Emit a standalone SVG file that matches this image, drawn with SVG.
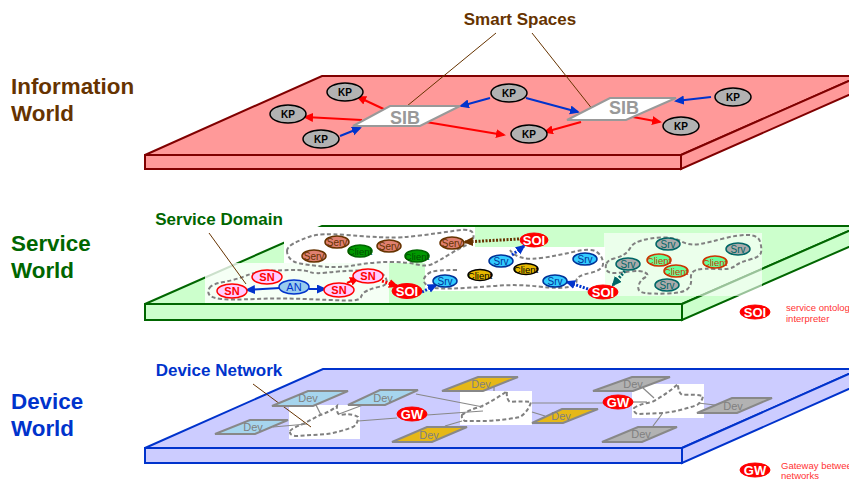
<svg xmlns="http://www.w3.org/2000/svg" width="849" height="482" viewBox="0 0 849 482">
<style>
text{font-family:"Liberation Sans",Arial,sans-serif;text-anchor:middle}
.world{font-size:22.4px;font-weight:bold;text-anchor:start}
.head{font-size:17px;font-weight:bold}
.brown{fill:#663300}.green{fill:#006600}.blue{fill:#0033cc}
.leader{stroke:#663300;stroke-width:1;fill:none}
.blob{fill:none;stroke:#808080;stroke-width:2;stroke-dasharray:4 2.5}
.legend{font-size:9.5px;fill:#ff3333;text-anchor:start}
.kp ellipse{fill:#b2b2b2;stroke:#000;stroke-width:1.5}
.kp text{font-size:10px;font-weight:bold;fill:#000}
.sib polygon{fill:#fff;stroke:#999;stroke-width:2}
.sib text{font-size:18px;font-weight:bold;fill:#999}
.red ellipse{fill:#f00;stroke:#f00}
.red text{font-size:13px;font-weight:bold;fill:#fff}
.sn ellipse{fill:#ffccff;stroke:#f00;stroke-width:1.5}
.sn text{font-size:11px;fill:#f00;font-weight:bold}
.an ellipse{fill:#99ccee;stroke:#0033cc;stroke-width:1.5}
.an text{font-size:11px;fill:#0033cc}
.srv ellipse{fill:#33ccff;stroke:#003399;stroke-width:1.5}
.srv text{font-size:10px;fill:#003399}
.serv ellipse{fill:#e08070;stroke:#663300;stroke-width:1.5}
.serv text{font-size:10px;fill:#663300}
.cg ellipse{fill:#009900;stroke:#006600;stroke-width:1.5}
.cg text{font-size:9.5px;fill:#004d00}
.cy ellipse{fill:#e6b800;stroke:#000;stroke-width:1.5}
.cy text{font-size:9.5px;fill:#000}
.st ellipse{fill:#aaa;stroke:#006666;stroke-width:1.5}
.st text{font-size:10px;fill:#006666}
.cr ellipse{fill:#66ff99;stroke:#cc3300;stroke-width:1.5}
.cr text{font-size:9.5px;fill:#cc3300}
.dev polygon{stroke:#888;stroke-width:2}
.dev text{font-size:11px;fill:#808080}
.db polygon{fill:#a6d5ee}.dy polygon{fill:#e6b817}.dg polygon{fill:#b2b2b2}
.cl{fill:none;stroke-width:2}
.lr{stroke:#f00}.lb{stroke:#0033cc}.lbr{stroke:#663300}.lt{stroke:#006666}
.dot{stroke-dasharray:2 1.5;stroke-width:3}
.dl{stroke:#888;stroke-width:1.2;fill:none}
</style>
<defs>
<marker id="ar" markerUnits="userSpaceOnUse" markerWidth="11" markerHeight="10" refX="8" refY="4.5" orient="auto"><path d="M0 0L10 4.5L0 9Z" fill="#f00"/></marker>
<marker id="ab" markerUnits="userSpaceOnUse" markerWidth="11" markerHeight="10" refX="8" refY="4.5" orient="auto"><path d="M0 0L10 4.5L0 9Z" fill="#0033cc"/></marker>
<marker id="abr" markerUnits="userSpaceOnUse" markerWidth="11" markerHeight="10" refX="8" refY="4.5" orient="auto"><path d="M0 0L10 4.5L0 9Z" fill="#663300"/></marker>
<marker id="at" markerUnits="userSpaceOnUse" markerWidth="11" markerHeight="10" refX="8" refY="4.5" orient="auto"><path d="M0 0L10 4.5L0 9Z" fill="#006666"/></marker>
</defs>

<g id="plate-information" fill="#ff9999" stroke="#800000" stroke-width="2">
<polygon points="145,155 322,76 860,76 681,155"/>
<polygon points="681,155 860,76 860,90 681,169"/>
<rect x="145" y="155" width="536" height="14"/>
</g>
<g id="plate-service" fill="#ccffcc" stroke="#006600" stroke-width="2">
<polygon points="145,304 322,226 860,226 682,304"/>
<polygon points="682,304 860,226 860,242 682,320"/>
<rect x="145" y="304" width="537" height="16"/>
</g>
<g id="plate-device" fill="#ccccff" stroke="#0033cc" stroke-width="2">
<polygon points="145,448 323,369 860,369 682,448"/>
<polygon points="682,448 860,369 860,384 682,463"/>
<rect x="145" y="448" width="537" height="15"/>
</g>

<g id="patches" stroke="none">
<rect x="205" y="263" width="184" height="40" fill="#fff" fill-opacity=".8"/>
<rect x="284" y="227" width="191" height="36" fill="#fff"/>
<rect x="425" y="247" width="180" height="44" fill="#fff"/>
<rect x="604" y="233" width="158" height="63" fill="#fff" fill-opacity=".6"/>
<rect x="289" y="405" width="71" height="34" fill="#fff"/>
<rect x="460" y="391" width="72" height="34" fill="#fff"/>
<rect x="632" y="384" width="72" height="34" fill="#fff"/>
</g>

<g id="connectors">
<g class="blobs">
<path class="blob" d="M209.5,288 Q212,284 223.5,282 Q235,280 246.5,275.5 Q258,271 274,270.5 Q290,270 297.5,270 Q305,270 310,272 Q315,274 327.5,272.5 Q340,271 357.5,270.5 Q375,270 380,272.5 Q385,275 386.5,280 Q388,285 380.5,286.5 Q373,288 367.5,290.5 Q362,293 361,297 Q360,301 345,300.5 Q330,300 305,299 Q280,298 255,299 Q230,300 221,299 Q212,298 209.5,295 Q207,292 209.5,288Z"/>
<path class="blob" d="M287,251 Q287,247 293.5,243.5 Q300,240 310,236.5 Q320,233 346.5,235 Q373,237 386.5,237.5 Q400,238 420,235.5 Q440,233 456.5,230.5 Q473,228 473.5,235 Q474,242 467,245 Q460,248 450,254 Q440,260 433.5,263.5 Q427,267 417,264.5 Q407,262 390,262 Q373,262 356.5,265 Q340,268 323.5,266.5 Q307,265 300,263.5 Q293,262 290,258.5 Q287,255 287,251Z"/>
<path class="blob" d="M457,270 Q437,270 431,272 Q425,275 424,279 Q423,283 428,286 Q433,289 451.5,288.5 Q470,288 493.5,286 Q517,284 538.5,286.5 Q560,289 568.5,287 Q577,285 576.5,280.5 Q576,276 590,273 Q604,270 603,262.5 Q602,255 596,251.5 Q590,248 575,251.5 Q560,255 545,257.5 Q530,260 521.5,257.5 Q513,255 510,250"/>
<path class="blob" d="M606.5,263.5 Q608,260 614,258.5 Q620,257 624,254.5 Q628,252 630.5,247.5 Q633,243 641.5,240.5 Q650,238 661.5,237.5 Q673,237 681.5,241.5 Q690,246 700,244 Q710,242 723.5,238.5 Q737,235 747.5,235 Q758,235 760,241.5 Q762,248 761,252.5 Q760,257 750,259.5 Q740,262 735,266 Q730,270 716.5,269 Q703,268 696.5,270 Q690,272 691,278.5 Q692,285 687.5,289 Q683,293 668,293.5 Q653,294 645,293 Q637,292 638.5,286 Q640,280 645,277.5 Q650,275 645,272.5 Q640,270 630,271.5 Q620,273 614,273 Q608,273 606.5,270 Q605,267 606.5,263.5Z"/>
<path class="blob" d="M290,431 Q292,428 303,424 L320,415 Q330,412 337,406 Q336,413 340,415 Q352,413 358,417 Q358,424 353,427 Q340,432 327,434 L297,436 Q289,436 290,431Z"/>
<path class="blob" d="M462,415 Q468,410 480,407 Q495,400 507,391 Q506,399 510,402 Q522,401 531,402 Q528,412 520,417 Q505,420 487,421 L465,421 Q461,419 462,415Z"/>
<path class="blob" d="M634,408 Q640,404 652,402 Q667,394 678,384 Q678,392 682,395 Q694,394 703,396 Q702,402 697,405 Q680,411 663,413 L637,414 Q633,412 634,408Z"/>
</g>
<g class="info">
<path class="cl lr" d="M390,112L358,97" marker-end="url(#ar)"/>
<path class="cl lr" d="M362,120L305,117" marker-end="url(#ar)"/>
<path class="cl lr" d="M420,121L504,135" marker-end="url(#ar)"/>
<path class="cl lr" d="M581,122L545,132" marker-end="url(#ar)"/>
<path class="cl lr" d="M633,117L660,122" marker-end="url(#ar)"/>
<path class="cl lb" d="M490,98L461,106" marker-end="url(#ab)"/>
<path class="cl lb" d="M526,98L578,112" marker-end="url(#ab)"/>
<path class="cl lb" d="M711,97L676,101" marker-end="url(#ab)"/>
<path class="cl lb" d="M340,136L360,128" marker-end="url(#ab)"/>
</g>
<g class="service">
<path class="cl lb" d="M280,288L247,290" marker-end="url(#ab)"/>
<path class="cl lb" d="M309,289L325,289" marker-end="url(#ab)"/>
<path class="cl lr" d="M347,283L358,278" marker-end="url(#ar)"/>
<path class="cl lr dot" d="M382,281L397,286" marker-end="url(#ar)"/>
<path class="cl lb dot" d="M422,292L436,285" marker-end="url(#ab)"/>
<path class="cl lbr dot" d="M519,239L465,242" marker-end="url(#abr)"/>
<path class="cl lb dot" d="M512,255L524,246" marker-end="url(#ab)"/>
<path class="cl lb dot" d="M588,289L567,282" marker-end="url(#ab)"/>
<path class="cl lt dot" d="M625,271L613,285" marker-end="url(#at)"/>
</g>
<g class="device">
<path class="dl" d="M316,405L321,415"/>
<path class="dl" d="M339,414L363,405"/>
<path class="dl" d="M273,427L307,424"/>
<path class="dl" d="M358,421L397,418"/>
<path class="dl" d="M427,415L483,411"/>
<path class="dl" d="M416,394L483,407"/>
<path class="dl" d="M445,426L462,421"/>
<path class="dl" d="M494,387L494,391"/>
<path class="dl" d="M532,403L604,403"/>
<path class="dl" d="M532,412L545,416"/>
<path class="dl" d="M633,402L647,402"/>
<path class="dl" d="M643,388L654,398"/>
<path class="dl" d="M698,403L715,405"/>
<path class="dl" d="M653,426L662,414"/>
</g>
<path class="leader" d="M496,33L407,106"/>
<path class="leader" d="M532,33L597,115"/>
<path class="leader" d="M209,233L246,284"/>
<path class="leader" d="M253,384L311,427"/>
</g>

<g id="labels">
<text class="world brown" x="11" y="94">Information</text>
<text class="world brown" x="11" y="121">World</text>
<text class="world green" x="11" y="251">Service</text>
<text class="world green" x="11" y="278">World</text>
<text class="world blue" x="11" y="409">Device</text>
<text class="world blue" x="11" y="436">World</text>
<text class="head brown" x="520" y="25">Smart Spaces</text>
<text class="head green" x="219" y="225">Service Domain</text>
<text class="head blue" x="219" y="376">Device Network</text>
<text class="legend" x="786" y="311">service ontology</text>
<text class="legend" x="786" y="322">interpreter</text>
<text class="legend" x="781" y="469">Gateway between</text>
<text class="legend" x="781" y="479">networks</text>
</g>

<g id="sib1" class="sib"><polygon points="353,126 390,106 460,106 420,126"/><text x="405" y="124">SIB</text></g>
<g id="sib2" class="sib"><polygon points="567,120 610,98 676,98 626,120"/><text x="624" y="114">SIB</text></g>
<g id="kp1" class="kp"><ellipse cx="345" cy="92" rx="18" ry="9"/><text x="345" y="96">KP</text></g>
<g id="kp2" class="kp"><ellipse cx="288" cy="114" rx="18" ry="9"/><text x="288" y="118">KP</text></g>
<g id="kp3" class="kp"><ellipse cx="321" cy="139" rx="18" ry="9"/><text x="321" y="143">KP</text></g>
<g id="kp4" class="kp"><ellipse cx="509" cy="93" rx="18" ry="9"/><text x="509" y="97">KP</text></g>
<g id="kp5" class="kp"><ellipse cx="529" cy="134" rx="18" ry="9"/><text x="529" y="138">KP</text></g>
<g id="kp6" class="kp"><ellipse cx="681" cy="126" rx="18" ry="9"/><text x="681" y="130">KP</text></g>
<g id="kp7" class="kp"><ellipse cx="733" cy="97" rx="18" ry="9"/><text x="733" y="101">KP</text></g>

<g id="sn1" class="sn"><ellipse cx="267" cy="277" rx="15" ry="7"/><text x="267" y="281">SN</text></g>
<g id="sn2" class="sn"><ellipse cx="232" cy="291" rx="15" ry="7"/><text x="232" y="295">SN</text></g>
<g id="an" class="an"><ellipse cx="294" cy="287" rx="15" ry="7"/><text x="294" y="291">AN</text></g>
<g id="sn3" class="sn"><ellipse cx="339" cy="290" rx="15" ry="7"/><text x="339" y="294">SN</text></g>
<g id="sn4" class="sn"><ellipse cx="368" cy="276" rx="15" ry="7"/><text x="368" y="280">SN</text></g>
<g id="soi1" class="red"><ellipse cx="407" cy="291" rx="15" ry="7.5"/><text x="407" y="295.5">SOI</text></g>
<g id="soi2" class="red"><ellipse cx="534" cy="240" rx="14" ry="7"/><text x="534" y="244.5">SOI</text></g>
<g id="soi3" class="red"><ellipse cx="603" cy="292" rx="15" ry="7"/><text x="603" y="296.5">SOI</text></g>
<g id="srv1" class="srv"><ellipse cx="445" cy="281" rx="12" ry="6"/><text x="445" y="284.5">Srv</text></g>
<g id="srv2" class="srv"><ellipse cx="501" cy="261" rx="12" ry="6"/><text x="501" y="264.5">Srv</text></g>
<g id="srv3" class="srv"><ellipse cx="585" cy="259" rx="12" ry="6"/><text x="585" y="262.5">Srv</text></g>
<g id="srv4" class="srv"><ellipse cx="555" cy="281" rx="12" ry="6"/><text x="555" y="284.5">Srv</text></g>
<g id="client1" class="cy"><ellipse cx="480" cy="275" rx="12" ry="5.5"/><text x="480" y="278.5">Client</text></g>
<g id="client2" class="cy"><ellipse cx="526" cy="269" rx="12" ry="5.5"/><text x="526" y="272.5">Client</text></g>
<g id="serv1" class="serv"><ellipse cx="337" cy="242" rx="12" ry="6"/><text x="337" y="245.5">Serv</text></g>
<g id="serv2" class="serv"><ellipse cx="314" cy="256" rx="12" ry="6"/><text x="314" y="259.5">Serv</text></g>
<g id="serv3" class="serv"><ellipse cx="389" cy="246" rx="12" ry="6"/><text x="389" y="249.5">Serv</text></g>
<g id="serv4" class="serv"><ellipse cx="452" cy="243" rx="12" ry="6"/><text x="452" y="246.5">Serv</text></g>
<g id="client3" class="cg"><ellipse cx="360" cy="251" rx="12" ry="6"/><text x="360" y="254.5">Client</text></g>
<g id="client4" class="cg"><ellipse cx="417" cy="256" rx="12" ry="6"/><text x="417" y="259.5">Client</text></g>
<g id="srv5" class="st"><ellipse cx="668" cy="244" rx="12" ry="6"/><text x="668" y="247.5">Srv</text></g>
<g id="srv6" class="st"><ellipse cx="738" cy="249" rx="12" ry="6"/><text x="738" y="252.5">Srv</text></g>
<g id="srv7" class="st"><ellipse cx="628" cy="264" rx="12" ry="6"/><text x="628" y="267.5">Srv</text></g>
<g id="srv8" class="st"><ellipse cx="667" cy="285" rx="12" ry="6"/><text x="667" y="288.5">Srv</text></g>
<g id="client5" class="cr"><ellipse cx="659" cy="260" rx="12" ry="6"/><text x="659" y="263.5">Client</text></g>
<g id="client6" class="cr"><ellipse cx="676" cy="271" rx="12" ry="6"/><text x="676" y="274.5">Client</text></g>
<g id="client7" class="cr"><ellipse cx="715" cy="262" rx="12" ry="6"/><text x="715" y="265.5">Client</text></g>
<g id="legend-soi" class="red"><ellipse cx="755" cy="312" rx="15" ry="7"/><text x="755" y="316.5">SOI</text></g>

<g id="dev1" class="dev db"><polygon points="272,406 308,391 348,391 313,406"/><text x="308" y="402">Dev</text></g>
<g id="dev2" class="dev db"><polygon points="348,405 380,390 418,390 385,405"/><text x="383" y="402">Dev</text></g>
<g id="dev3" class="dev db"><polygon points="215,434 250,420 288,420 255,434"/><text x="253" y="431">Dev</text></g>
<g id="dev4" class="dev dy"><polygon points="442,391 478,377 518,377 483,391"/><text x="481" y="388">Dev</text></g>
<g id="dev5" class="dev dy"><polygon points="532,423 562,409 598,409 563,423"/><text x="561" y="420">Dev</text></g>
<g id="dev6" class="dev dy"><polygon points="392,442 427,427 467,427 432,442"/><text x="429" y="439">Dev</text></g>
<g id="dev7" class="dev dg"><polygon points="593,391 632,377 670,377 633,391"/><text x="633" y="388">Dev</text></g>
<g id="dev8" class="dev dg"><polygon points="697,413 732,398 772,398 737,413"/><text x="733" y="410">Dev</text></g>
<g id="dev9" class="dev dg"><polygon points="602,442 638,427 677,427 642,442"/><text x="641" y="438">Dev</text></g>
<g id="gw1" class="red"><ellipse cx="412" cy="414" rx="15" ry="7"/><text x="412" y="418.5">GW</text></g>
<g id="gw2" class="red"><ellipse cx="618" cy="402" rx="15" ry="7"/><text x="618" y="406.5">GW</text></g>
<g id="legend-gw" class="red"><ellipse cx="755" cy="470" rx="15" ry="7"/><text x="755" y="474.5">GW</text></g>
</svg>
